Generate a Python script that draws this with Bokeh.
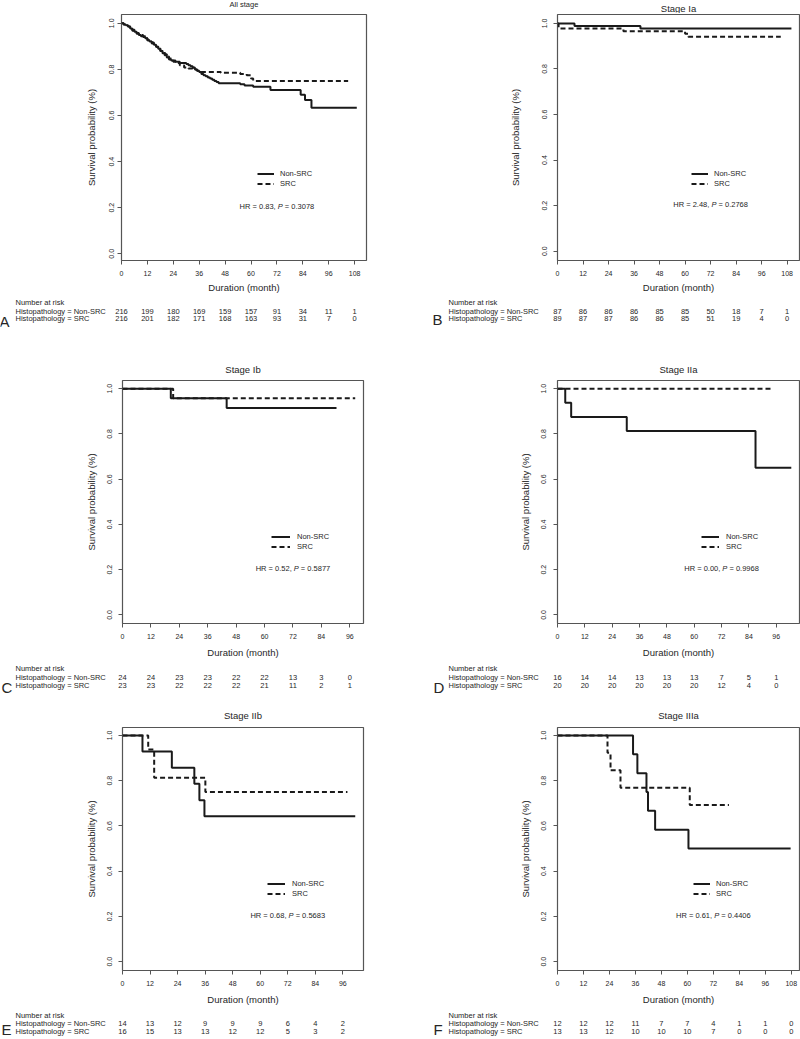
from bokeh.plotting import figure
from bokeh.models import (Range1d, FixedTicker, PrintfTickFormatter, Label,
                          Legend, LegendItem)
from bokeh.layouts import column, row
from bokeh.core.properties import value
from bokeh.embed import file_html
from bokeh.resources import INLINE

# ---------------- data ----------------
titles = ["All stage", "Stage Ia", "Stage Ib", "Stage IIa", "Stage IIb", "Stage IIIa"]
letters = ["A", "B", "C", "D", "E", "F"]
series_names = ["Non-SRC", "SRC"]
row_names = ["Number at risk", "Histopathology = Non-SRC", "Histopathology = SRC"]
x_label = "Duration (month)"
y_label = "Survival probability (%)"

ticks_108 = [0, 12, 24, 36, 48, 60, 72, 84, 96, 108]
ticks_96 = [0, 12, 24, 36, 48, 60, 72, 84, 96]
y_ticks = [0.0, 0.2, 0.4, 0.6, 0.8, 1.0]

# A - All stage
a_non_time = [0, 1, 2, 3, 4, 5, 6, 7, 8, 9, 10, 11, 12, 13, 14, 15, 16, 17, 18, 19, 20, 21, 22, 23,
              25, 27, 30, 31, 32, 33, 34, 35, 36, 37, 38, 39, 40, 41, 42, 43, 44, 45,
              55, 57, 61, 69, 83, 85, 88, 109]
a_non_surv = [1.0, 0.995, 0.991, 0.986, 0.977, 0.968, 0.963, 0.954, 0.949, 0.944,
              0.940, 0.935, 0.926, 0.921, 0.917, 0.907, 0.898, 0.889, 0.880, 0.870,
              0.861, 0.852, 0.843, 0.838,
              0.833, 0.828, 0.823, 0.818, 0.813, 0.808, 0.799, 0.794, 0.789, 0.780,
              0.775, 0.770, 0.765, 0.760, 0.755, 0.750, 0.745, 0.740,
              0.735, 0.730, 0.725, 0.711, 0.690, 0.667, 0.633, 0.633]
a_src_time = [0, 1, 2, 3, 4, 5, 6, 7, 8, 9, 10, 11, 12, 13, 14, 15, 16, 17, 18, 19, 20, 21, 22, 23, 24,
              26, 27, 29, 31, 33, 35, 37, 46, 55, 58, 60, 61, 105]
a_src_surv = [1.0, 0.995, 0.990, 0.986, 0.981, 0.972, 0.963, 0.958, 0.954, 0.949,
              0.944, 0.935, 0.926, 0.921, 0.912, 0.907, 0.898, 0.889, 0.880, 0.875,
              0.866, 0.856, 0.847, 0.838, 0.833,
              0.828, 0.818, 0.808, 0.804, 0.799, 0.794, 0.789, 0.785, 0.780, 0.775,
              0.760, 0.750, 0.750]
a_risk_non = [216, 199, 180, 169, 159, 157, 91, 34, 11, 1]
a_risk_src = [216, 201, 182, 171, 168, 163, 93, 31, 7, 0]
a_hr, a_p = "0.83", "0.3078"

# B - Stage Ia
b_non_time = [0, 8, 39, 110]
b_non_surv = [1.0, 0.989, 0.977, 0.977]
b_src_time = [0, 0.5, 31, 60, 61.5, 105]
b_src_surv = [1.0, 0.978, 0.966, 0.954, 0.941, 0.941]
b_risk_non = [87, 86, 86, 86, 85, 85, 50, 18, 7, 1]
b_risk_src = [89, 87, 87, 86, 86, 85, 51, 19, 4, 0]
b_hr, b_p = "2.48", "0.2768"

# C - Stage Ib
c_non_time = [0, 20.4, 44, 90.4]
c_non_surv = [1.0, 0.958, 0.914, 0.914]
c_src_time = [0, 21.4, 98.3]
c_src_surv = [1.0, 0.957, 0.957]
c_risk_non = [24, 24, 23, 23, 22, 22, 13, 3, 0]
c_risk_src = [23, 23, 22, 22, 22, 21, 11, 2, 1]
c_hr, c_p = "0.52", "0.5877"

# D - Stage IIa
d_non_time = [0, 3.4, 6, 30.4, 86.9, 102.6]
d_non_surv = [1.0, 0.9375, 0.875, 0.8125, 0.65, 0.65]
d_src_time = [0, 94.2]
d_src_surv = [1.0, 1.0]
d_risk_non = [16, 14, 14, 13, 13, 13, 7, 5, 1]
d_risk_src = [20, 20, 20, 20, 20, 20, 12, 4, 0]
d_hr, d_p = "0.00", "0.9968"

# E - Stage IIb
e_non_time = [0, 8.7, 21.5, 31.3, 33.5, 35.7, 101.4]
e_non_surv = [1.0, 0.929, 0.857, 0.786, 0.714, 0.643, 0.643]
e_src_time = [0, 11.2, 13.8, 36.1, 98]
e_src_surv = [1.0, 0.9375, 0.8125, 0.75, 0.75]
e_risk_non = [14, 13, 12, 9, 9, 9, 6, 4, 2]
e_risk_src = [16, 15, 13, 13, 12, 12, 5, 3, 2]
e_hr, e_p = "0.68", "0.5683"

# F - Stage IIIa
f_non_time = [0, 34.9, 36.9, 41.1, 41.8, 45.1, 60.5, 107.7]
f_non_surv = [1.0, 0.917, 0.833, 0.75, 0.667, 0.583, 0.5, 0.5]
f_src_time = [0, 23.1, 24.5, 29.1, 61.1, 79.2]
f_src_surv = [1.0, 0.923, 0.846, 0.769, 0.692, 0.692]
f_risk_non = [12, 12, 12, 11, 7, 7, 4, 1, 1, 0]
f_risk_src = [13, 13, 12, 10, 10, 10, 7, 0, 0, 0]
f_hr, f_p = "0.61", "0.4406"

# ---------------- styling / layout ----------------
FONT = "Liberation Sans"
INK = "#1a1a1a"
TXT = "#262626"
FRAME_C = "#555555"
W = 400
SMALL = "7.5px"

panel_data = [
    (a_non_time, a_non_surv, a_src_time, a_src_surv, ticks_108, a_risk_non, a_risk_src, a_hr, a_p),
    (b_non_time, b_non_surv, b_src_time, b_src_surv, ticks_108, b_risk_non, b_risk_src, b_hr, b_p),
    (c_non_time, c_non_surv, c_src_time, c_src_surv, ticks_96, c_risk_non, c_risk_src, c_hr, c_p),
    (d_non_time, d_non_surv, d_src_time, d_src_surv, ticks_96, d_risk_non, d_risk_src, d_hr, d_p),
    (e_non_time, e_non_surv, e_src_time, e_src_surv, ticks_96, e_risk_non, e_risk_src, e_hr, e_p),
    (f_non_time, f_non_surv, f_src_time, f_src_surv, ticks_108, f_risk_non, f_risk_src, f_hr, f_p),
]

# heights: title strip / plot / risk table strip
row_geom = [
    dict(ht=13, hp=282, hb=50, fh=247, title_y=[4, 8], rows_y=[7, 15.7, 23.3], letter_y=[25.5, 23.7], xlas=3),
    dict(ht=34, hp=281, hb=37, fh=245, title_y=[24, 24], rows_y=[8.3, 16.7, 25], letter_y=[26.5, 26.7], xlas=5),
    dict(ht=29, hp=281, hb=32, fh=245, title_y=[17.7, 17.7], rows_y=[7.7, 15.9, 23.5], letter_y=[21.5, 21.5], xlas=5),
]

panel_layout = [
    dict(left=121, fw=245, xend=113.5, yr=(-0.029, 1.038), tsize="7.5px", labx=15, letx=-1, ylso=3, ylas=10),
    dict(left=157, fw=242, xend=113.8, yr=(-0.041, 1.039), tsize="9.5px", labx=48, letx=32, ylso=6, ylas=19),
    dict(left=122, fw=241, xend=101.8, yr=(-0.038, 1.036), tsize="9.5px", labx=15, letx=1, ylso=6, ylas=8),
    dict(left=157, fw=242, xend=106.2, yr=(-0.038, 1.036), tsize="9.5px", labx=48, letx=33, ylso=7, ylas=8),
    dict(left=122, fw=241, xend=105.0, yr=(-0.039, 1.035), tsize="9.5px", labx=15, letx=1, ylso=6, ylas=8),
    dict(left=157, fw=242, xend=111.8, yr=(-0.039, 1.035), tsize="9.5px", labx=48, letx=33, ylso=7, ylas=8),
]


def strip(H, left, fw, xend):
    """A borderless figure whose frame is its whole canvas and whose x scale matches the plot's."""
    sx = fw / xend
    f = figure(width=W, height=H, output_backend="svg", toolbar_location=None, tools="",
               x_range=Range1d(-left / sx, (W - left) / sx), y_range=Range1d(H, 0),
               x_axis_location=None, y_axis_location=None, min_border=0,
               min_border_left=0, min_border_right=0, min_border_top=0, min_border_bottom=0,
               frame_align=False)
    f.grid.visible = False
    f.outline_line_color = None
    f.background_fill_color = "white"
    f.border_fill_color = "white"
    return f


def make_panel(i):
    non_t, non_s, src_t, src_s, xt, rn, rs, hr, pv = panel_data[i]
    L = panel_layout[i]
    G = row_geom[i // 2]
    c = i % 2
    fw, left, xend = L["fw"], L["left"], L["xend"]

    # ---- title strip
    t = strip(G["ht"], left, fw, xend)
    t.text(x=[xend / 2], y=[G["title_y"][c]], text=[titles[i]], text_align="center",
           text_baseline="middle", text_font=value(FONT), text_font_size=value(L["tsize"]),
           text_color=TXT)

    # ---- main plot
    hp, fh = G["hp"], G["fh"]
    p = figure(width=W, height=hp, output_backend="svg", toolbar_location=None, tools="",
               x_range=Range1d(0, xend), y_range=Range1d(*L["yr"]),
               min_border_left=left, min_border_right=W - left - fw,
               min_border_top=1, min_border_bottom=hp - 1 - fh, frame_align=False)
    p.grid.visible = False
    p.outline_line_color = FRAME_C
    p.outline_line_width = 1.2
    p.background_fill_color = "white"
    p.border_fill_color = "white"

    for ax in (p.xaxis[0], p.yaxis[0]):
        ax.axis_line_color = None
        ax.major_tick_line_color = FRAME_C
        ax.major_tick_in = 0
        ax.major_tick_out = 4
        ax.minor_tick_line_color = None
        ax.major_label_text_font = FONT
        ax.major_label_text_font_size = "7px"
        ax.major_label_text_color = TXT
        ax.axis_label_text_font = FONT
        ax.axis_label_text_font_size = "9.5px"
        ax.axis_label_text_font_style = "normal"
        ax.axis_label_text_color = TXT

    xa = p.xaxis[0]
    xa.ticker = FixedTicker(ticks=xt, minor_ticks=[])
    xa.major_label_standoff = 6
    xa.axis_label = x_label
    xa.axis_label_standoff = G["xlas"]

    ya = p.yaxis[0]
    ya.ticker = FixedTicker(ticks=y_ticks, minor_ticks=[])
    ya.formatter = PrintfTickFormatter(format="%.1f")
    ya.major_label_orientation = "vertical"
    ya.major_label_standoff = L["ylso"]
    ya.axis_label = y_label
    ya.axis_label_standoff = L["ylas"]

    r_non = p.step(non_t, non_s, mode="after", line_color=INK, line_width=2)
    r_src = p.step(src_t, src_s, mode="after", line_color=INK, line_width=2, line_dash="5 3")

    sx = fw / xend
    legend = Legend(items=[LegendItem(label=series_names[0], renderers=[r_non]),
                           LegendItem(label=series_names[1], renderers=[r_src])],
                    location=(int(round(63 * sx)), 72), orientation="vertical",
                    background_fill_alpha=0, border_line_color=None,
                    label_text_font=FONT, label_text_font_size=SMALL, label_text_color=TXT,
                    glyph_width=int(round(8 * sx)), glyph_height=9, label_height=9,
                    label_standoff=int(round(3 * sx)), spacing=1, padding=0, margin=0)
    p.add_layout(legend)

    common = dict(x=72, y=0.205, x_units="data", y_units="data", text_font=FONT,
                  text_font_size=SMALL, text_color=TXT, text_baseline="middle", text_align="left")
    p.add_layout(Label(text="HR = " + hr + ",", x_offset=-37.3, **common))
    p.add_layout(Label(text="P", x_offset=0.8, text_font_style="italic", **common))
    p.add_layout(Label(text="= " + pv, x_offset=7.9, **common))

    # ---- number-at-risk strip
    b = strip(G["hb"], left, fw, xend)
    ry = G["rows_y"]
    for k, name in enumerate(row_names):
        b.add_layout(Label(text=name, x=L["labx"], y=ry[k], x_units="screen", y_units="data",
                           text_align="left", text_baseline="middle", text_font=FONT,
                           text_font_size=SMALL, text_color=TXT))
    for k, counts in ((1, rn), (2, rs)):
        b.text(x=xt[:len(counts)], y=[ry[k]] * len(counts), text=[str(v) for v in counts],
               text_align="center", text_baseline="middle", text_font=value(FONT),
               text_font_size=value(SMALL), text_color=TXT)
    b.add_layout(Label(text=letters[i], x=L["letx"], y=G["letter_y"][c], x_units="screen", y_units="data",
                       text_align="left", text_baseline="middle", text_font=FONT,
                       text_font_size="15px", text_color=TXT))
    return column(t, p, b)


panels = [make_panel(i) for i in range(6)]
layout = column(row(panels[0], panels[1]), row(panels[2], panels[3]), row(panels[4], panels[5]))

open("out.html", "w").write(file_html(layout, INLINE))
